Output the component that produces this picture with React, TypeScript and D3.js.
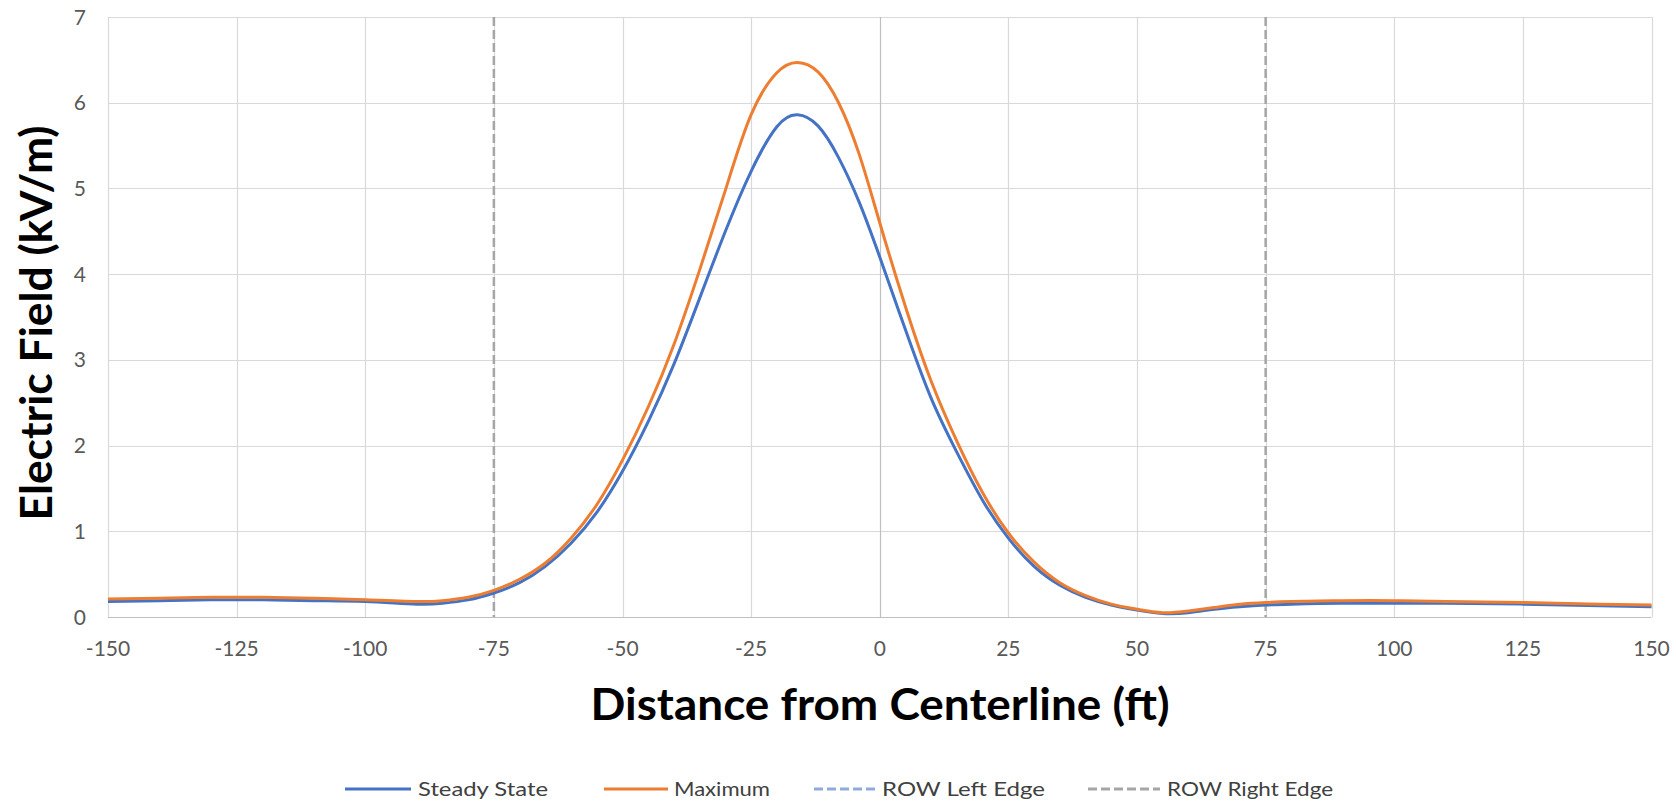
import React from "react";
import * as d3 from "d3";

const distances = [-150, -140, -130, -120, -110, -100, -90, -85, -80, -75, -70, -65, -60, -55, -50, -45, -40, -35, -30, -25, -20, -16, -12, -8, -4, 0, 5, 10, 15, 20, 25, 30, 35, 40, 45, 50, 55, 60, 65, 70, 75, 80, 90, 100, 110, 125, 140, 150];
const steadyState = [0.18, 0.19, 0.2, 0.2, 0.19, 0.18, 0.15, 0.16, 0.2, 0.28, 0.4, 0.59, 0.86, 1.22, 1.7, 2.28, 2.95, 3.72, 4.5, 5.2, 5.72, 5.86, 5.73, 5.36, 4.84, 4.2, 3.35, 2.55, 1.92, 1.36, 0.92, 0.59, 0.37, 0.23, 0.14, 0.08, 0.04, 0.05, 0.09, 0.12, 0.14, 0.15, 0.16, 0.16, 0.16, 0.15, 0.13, 0.12];
const maximum = [0.21, 0.22, 0.23, 0.23, 0.22, 0.2, 0.18, 0.19, 0.23, 0.31, 0.44, 0.63, 0.92, 1.31, 1.83, 2.45, 3.18, 4.05, 4.98, 5.86, 6.35, 6.47, 6.36, 6.0, 5.4, 4.6, 3.62, 2.75, 2.05, 1.45, 0.98, 0.64, 0.4, 0.25, 0.15, 0.09, 0.05, 0.07, 0.11, 0.15, 0.17, 0.18, 0.19, 0.19, 0.18, 0.17, 0.15, 0.14];
const rowEdges = [-75, 75];
const xTicks = [-150, -125, -100, -75, -50, -25, 0, 25, 50, 75, 100, 125, 150];
const yTicks = [0, 1, 2, 3, 4, 5, 6, 7];
const legendLabels = ["Steady State", "Maximum", "ROW Left Edge", "ROW Right Edge"];

const W = 1676;
const H = 804;
const plot = { left: 108, right: 1651.5, top: 17, bottom: 617 };

export default function App() {
  const x = d3.scaleLinear().domain([-150, 150]).range([plot.left, plot.right]);
  const y = d3.scaleLinear().domain([0, 7]).range([plot.bottom, plot.top]);
  const line = d3
    .line<number>()
    .x((_, i) => x(distances[i]))
    .y((d) => y(d))
    .curve(d3.curveNatural);

  const tickFont = "Lato, 'Open Sans', sans-serif";
  const legendItems = [
    { label: legendLabels[0], x1: 345, x2: 411, tx: 418, tw: 130, color: "#4472C4", dash: undefined },
    { label: legendLabels[1], x1: 604, x2: 668, tx: 674, tw: 96, color: "#ED7D31", dash: undefined },
    { label: legendLabels[2], x1: 814, x2: 876, tx: 882, tw: 163, color: "#8FAADC", dash: "9,4" },
    { label: legendLabels[3], x1: 1088, x2: 1160, tx: 1167, tw: 166, color: "#A6A6A6", dash: "9,4" },
  ];

  return (
    <svg
      width={W}
      height={H}
      style={{ position: "absolute", left: 0, top: 0, background: "#fff" }}
    >
      <rect x={0} y={0} width={W} height={H} fill="#fff" />
      {yTicks.map((t) => (
        <line
          key={"gy" + t}
          x1={plot.left}
          x2={plot.right}
          y1={Math.round(y(t)) + 0.5}
          y2={Math.round(y(t)) + 0.5}
          stroke={t === 0 ? "#BFBFBF" : "#D9D9D9"}
          strokeWidth={1.2}
        />
      ))}
      {xTicks.map((t) => (
        <line
          key={"gx" + t}
          x1={Math.round(x(t)) + 0.5}
          x2={Math.round(x(t)) + 0.5}
          y1={plot.top}
          y2={plot.bottom}
          stroke={t === 0 ? "#BFBFBF" : "#D9D9D9"}
          strokeWidth={1.2}
        />
      ))}
      {rowEdges.map((e) => (
        <line
          key={"row" + e}
          x1={x(e)}
          x2={x(e)}
          y1={plot.top}
          y2={plot.bottom}
          stroke="#A6A6A6"
          strokeWidth={2.5}
          strokeDasharray="9,4"
        />
      ))}
      <path d={line(steadyState) || ""} fill="none" stroke="#4472C4" strokeWidth={3} strokeLinejoin="round" />
      <path d={line(maximum) || ""} fill="none" stroke="#ED7D31" strokeWidth={3} strokeLinejoin="round" />
      {yTicks.map((t) => (
        <text
          key={"ty" + t}
          x={86}
          y={y(t) + 7.5}
          textAnchor="end"
          fontFamily={tickFont}
          fontSize={21}
          fill="#595959"
        >
          {t}
        </text>
      ))}
      {xTicks.map((t) => (
        <text
          key={"tx" + t}
          x={x(t)}
          y={656}
          textAnchor="middle"
          fontFamily={tickFont}
          fontSize={21}
          fill="#595959"
        >
          {t}
        </text>
      ))}
      <text
        x={880}
        y={720}
        textAnchor="middle"
        fontFamily={tickFont}
        fontWeight="bold"
        fontSize={43}
        fill="#000"
        textLength={579}
        lengthAdjust="spacingAndGlyphs"
      >
        Distance from Centerline (ft)
      </text>
      <text
        transform={`translate(52, ${(plot.top + plot.bottom) / 2 + 6}) rotate(-90)`}
        textAnchor="middle"
        fontFamily={tickFont}
        fontWeight="bold"
        fontSize={43}
        fill="#000"
        textLength={395}
        lengthAdjust="spacingAndGlyphs"
      >
        Electric Field (kV/m)
      </text>
      {legendItems.map((it) => (
        <g key={it.label}>
          <line
            x1={it.x1}
            x2={it.x2}
            y1={789}
            y2={789}
            stroke={it.color}
            strokeWidth={3}
            strokeDasharray={it.dash}
          />
          <text
            x={it.tx}
            y={796}
            fontFamily={tickFont}
            fontSize={20}
            fill="#404040"
            textLength={it.tw}
            lengthAdjust="spacingAndGlyphs"
          >
            {it.label}
          </text>
        </g>
      ))}
    </svg>
  );
}
